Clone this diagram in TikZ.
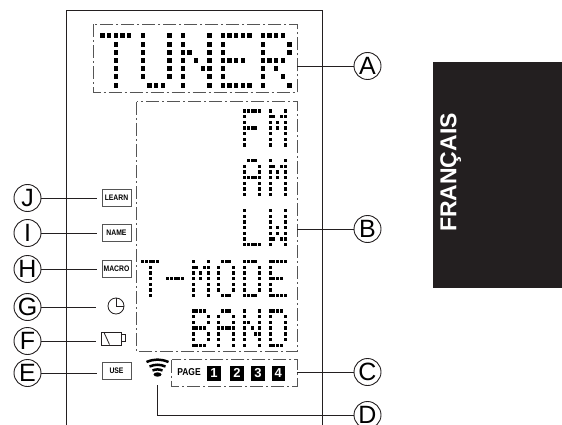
\documentclass[tikz,border=0pt]{standalone}
\usepackage{fontspec}
\usepackage{graphicx}
\usepackage{xcolor}
\setmainfont{Liberation Sans}
\usetikzlibrary{shapes, arrows, positioning, calc}

\definecolor{inkblack}{HTML}{231F20}
\definecolor{zonegray}{HTML}{555555}

% dot matrix glyphs, one number per row, five bits
\def\glyphT{31,4,4,4,4,4,4}
\def\glyphU{17,17,17,17,17,17,14}
\def\glyphN{17,17,25,21,19,17,17}
\def\glyphE{31,16,16,30,16,16,31}
\def\glyphR{30,17,17,30,20,18,17}
\def\glyphF{31,16,16,30,16,16,16}
\def\glyphM{17,27,21,21,17,17,17}
\def\glyphA{14,17,17,31,17,17,17}
\def\glyphL{16,16,16,16,16,16,31}
\def\glyphW{17,17,17,21,21,27,17}
\def\glyphO{14,17,17,17,17,17,14}
\def\glyphD{30,17,17,17,17,17,30}
\def\glyphB{30,17,17,30,17,17,30}
\def\glyphDash{0,0,0,31,0,0,0}

\newcommand{\dotglyph}[3]{%
  \edef\glyphrows{#3}%
  \foreach \rowbits [count=\j from 0] in \glyphrows {
    \foreach \col in {0,...,4} {
      \pgfmathtruncatemacro{\bit}{mod(floor(\rowbits/2^(4-\col)),2)}
      \ifnum\bit=1
        \fill[black] (#1+\col*\dotdx-\dotw/2, #2+\j*\dotdy-\doth/2) rectangle ++(\dotw,\doth);
      \fi
    }
  }
}
\newcommand{\narrowtext}[1]{\scalebox{.85}[1]{#1}}

\tikzset{
  zone/.style={draw=zonegray, line width=1pt, dash pattern=on 13pt off 3pt on 2pt off 3pt},
  callout/.style={circle, draw=inkblack, line width=.9pt, minimum size=27pt, inner sep=0pt, font=\fontsize{25}{25}\selectfont},
  leader/.style={draw=inkblack, line width=.9pt},
  keybox/.style={draw=zonegray, line width=1pt, minimum width=29pt, minimum height=17pt, inner sep=0pt, font=\bfseries\fontsize{8}{8}\selectfont},
  pagenum/.style={fill=black, text=white, minimum width=13.5pt, minimum height=15pt, inner sep=0pt, font=\bfseries\fontsize{13}{13}\selectfont}
}

\begin{document}
\begin{tikzpicture}[x=1pt,y=-1pt]
\useasboundingbox (0,0) rectangle (562,425);

% Display zones
\draw[zone] (93,24.5) rectangle (297,93);
\draw[zone] (136.7,102) rectangle (297,351.7);
\draw[zone] (171.7,359.5) rectangle (297,386);

% Large line
\def\dotdx{6.6}\def\dotdy{8.17}\def\dotw{4.4}\def\doth{5}
\foreach \gx/\gl in {102.5/\glyphT,143/\glyphU,183/\glyphN,223/\glyphE,263/\glyphR} {
  \dotglyph{\gx}{36}{\gl}
}

% Small lines
\def\dotdx{3.8}\def\dotdy{5.7}\def\dotw{3}\def\doth{3.4}
\foreach \gx/\gy/\gl in {244.5/111/\glyphF,270/111/\glyphM,
    244.5/160.5/\glyphA,270/160.5/\glyphM,
    244.5/210.5/\glyphL,270/210.5/\glyphW,
    142.5/261.5/\glyphT,167.5/261.5/\glyphDash,193/261.5/\glyphM,218.5/261.5/\glyphO,244.5/261.5/\glyphD,270/261.5/\glyphE,
    193/311/\glyphB,218.5/311/\glyphA,244.5/311/\glyphN,270/311/\glyphD} {
  \dotglyph{\gx}{\gy}{\gl}
}

% Page row
\node[font=\bfseries\fontsize{10}{10}\selectfont] (pagelabel) at (189,371.7) {\narrowtext{PAGE}};
\node[pagenum] (pageone) at (214,373) {1};
\node[pagenum] (pagetwo) at (237,373) {2};
\node[pagenum] (pagethree) at (258,373) {3};
\node[pagenum] (pagefour) at (278.3,373) {4};

% Key boxes
\node[keybox] (learnbox) at (116.5,198) {\narrowtext{LEARN}};
\node[keybox] (namebox) at (116.5,233) {\narrowtext{NAME}};
\node[keybox] (macrobox) at (116.5,269) {\narrowtext{MACRO}};
\node[keybox] (usebox) at (116.5,370.5) {\narrowtext{USE}};

% Clock
\node[circle, draw=inkblack, line width=.8pt, minimum size=16pt, inner sep=0pt] (clock) at (116,306) {};
\draw[inkblack, line width=.8pt] (clock.north) -- (clock.center) -- (clock.east);

% Battery
\node[draw=inkblack, line width=.8pt, minimum width=20pt, minimum height=13pt, inner sep=0pt] (battery) at (111.7,338.5) {};
\draw[inkblack, line width=.8pt] (battery.north east) ++(0,3) -- ++(3,0) -- ++(0,7) -- ++(-3,0);
\draw[inkblack, line width=.8pt] (104,332.5) -- (109.5,344.5);

% Signal icon
\coordinate (signal) at (157.5,385);
\draw[black, line width=2.5pt] (146.5,362) to[bend left=22] (168.5,362);
\draw[black, line width=2.5pt] (149.5,366.5) to[bend left=22] (165.5,366.5);
\draw[black, line width=2.5pt] (152.5,370.5) to[bend left=22] (162.5,370.5);
\fill[black] (157.5,374.5) ellipse (4 and 2.2);

% Frame
\draw[inkblack, line width=.8pt] (66.7,425) -- (66.7,10) -- (322.7,10) -- (322.7,425);

% Callouts
\node[callout] (circA) at (367.5,66) {A};
\node[callout] (circB) at (367.5,229) {B};
\node[callout] (circC) at (367.5,372) {C};
\node[callout] (circD) at (367.5,415) {D};
\node[callout] (circE) at (27.5,373) {E};
\node[callout] (circF) at (27.5,341) {F};
\node[callout] (circG) at (27.5,307) {G};
\node[callout] (circH) at (27.5,269) {H};
\node[callout] (circI) at (27.5,233) {I};
\node[callout] (circJ) at (27.5,198) {J};

% Leaders
\coordinate (zoneA) at (297,66);
\coordinate (zoneB) at (297,229);
\coordinate (zoneC) at (297,372);
\draw[leader] (zoneA) -- (circA);
\draw[leader] (zoneB) -- (circB);
\draw[leader] (zoneC) -- (circC);
\draw[leader] (signal) |- (circD);
\draw[leader, shorten >=5pt] (circJ) -- (learnbox);
\draw[leader, shorten >=5pt] (circI) -- (namebox);
\draw[leader, shorten >=5pt] (circH) -- (macrobox);
\draw[leader, shorten >=5pt] (circE) -- (circE -| usebox.west);
\draw[leader, shorten >=5pt] (circF) -- (circF -| battery.west);
\draw[leader, shorten >=12pt] (circG) -- (circG -| clock.west);

% Language tab
\fill[inkblack] (432.7,62) rectangle (562,288);
\node[rotate=90, text=white, font=\bfseries\fontsize{23}{23}\selectfont, text height=16.5pt, text depth=0pt, inner sep=0pt] (langtab) at (448,172.5) {FRANÇAIS};
\end{tikzpicture}
\end{document}
